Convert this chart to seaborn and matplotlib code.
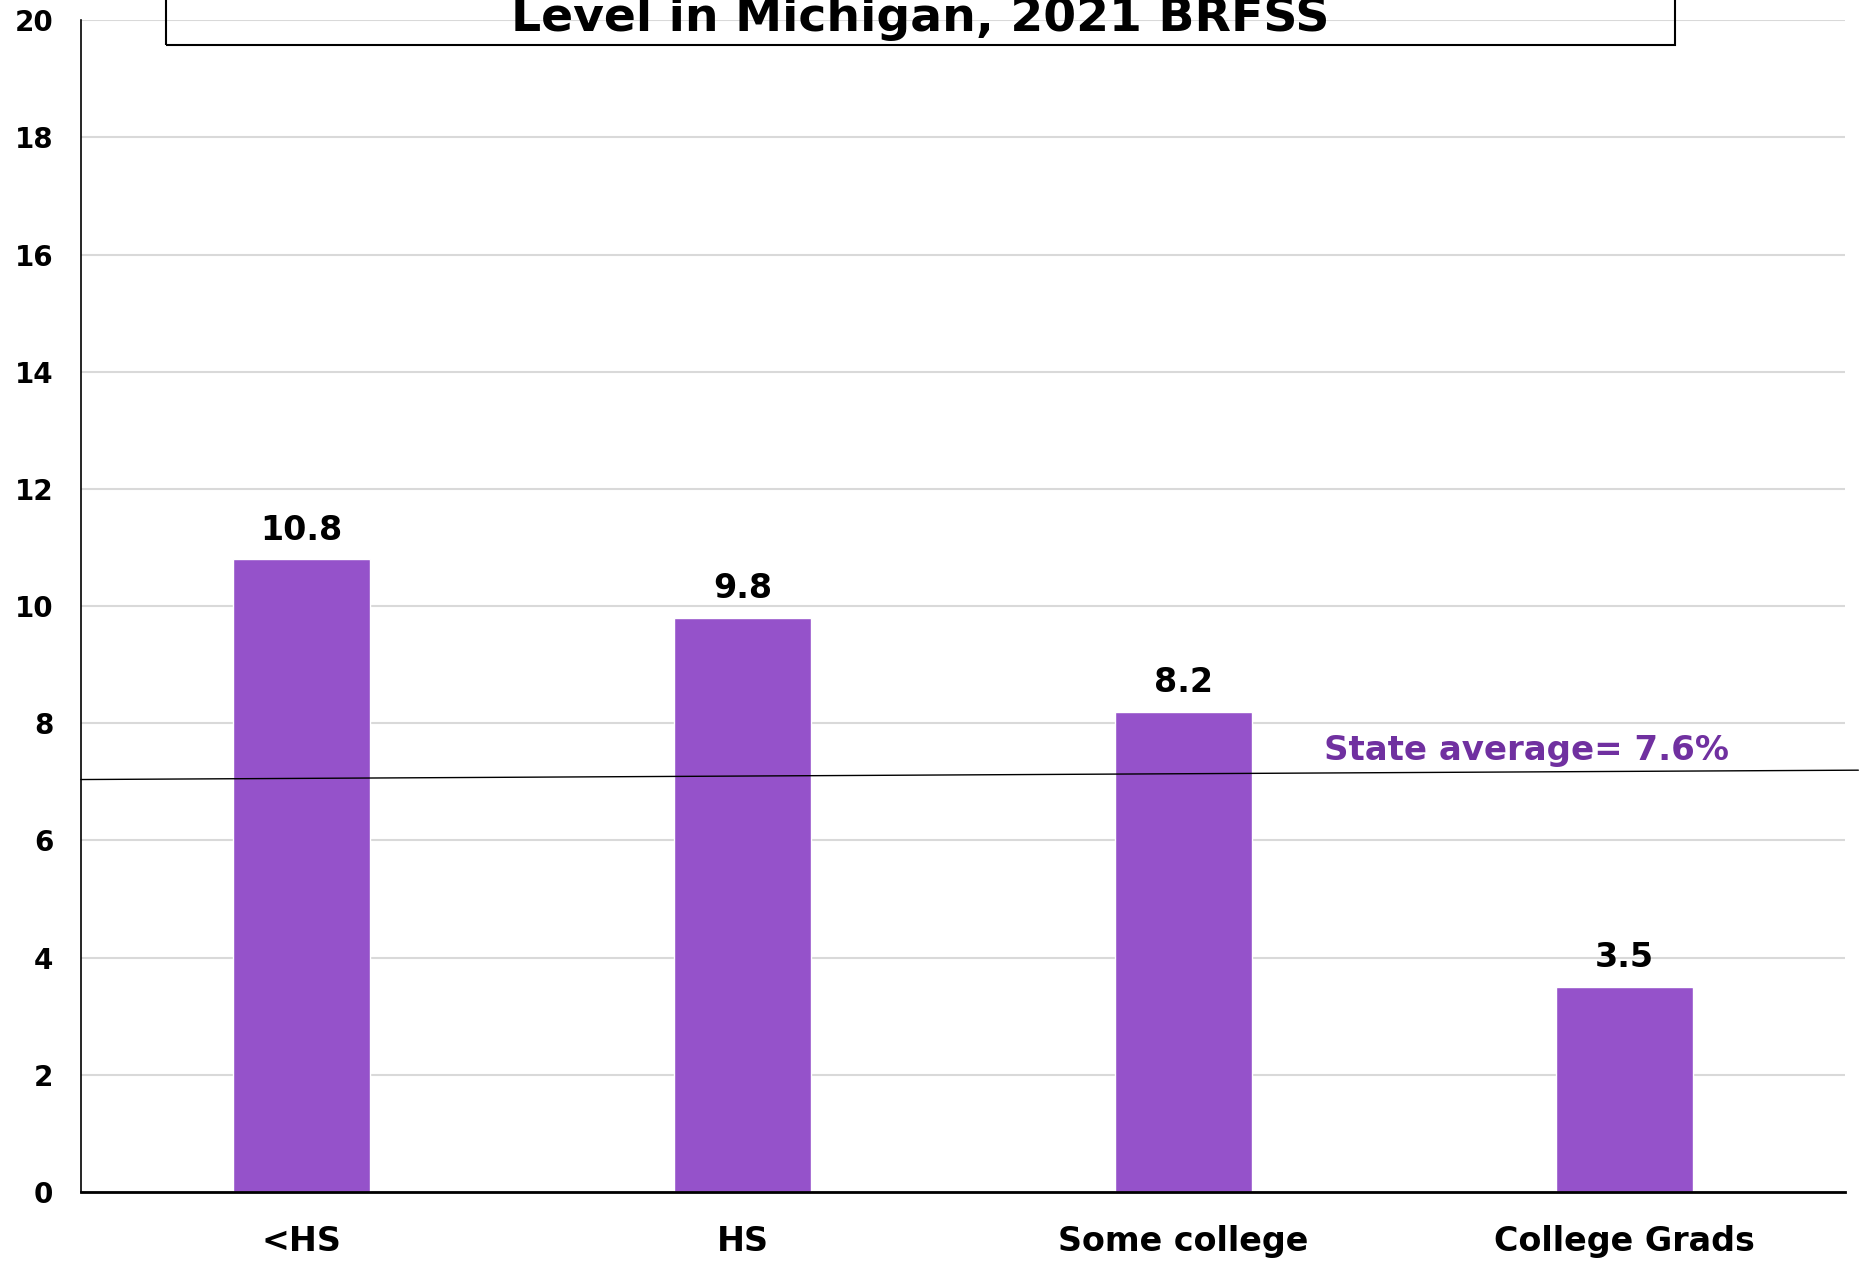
import matplotlib
matplotlib.use("Agg")
import matplotlib.pyplot as plt
import seaborn as sns
import pandas as pd
from matplotlib.patches import Rectangle

categories = ["<HS", "HS", "Some college", "College Grads"]
values = [10.8, 9.8, 8.2, 3.5]
yticks = [0, 2, 4, 6, 8, 10, 12, 14, 16, 18, 20]
title_text = "Level in Michigan, 2021 BRFSS"
avg_label = "State average= 7.6%"
avg_line_y = [7.04, 7.2]

sns.set_theme(style="white")
plt.rcParams['font.family'] = ['DejaVu Sans']
plt.rcParams['font.weight'] = 'bold'
plt.rcParams['text.color'] = 'black'
plt.rcParams['xtick.color'] = 'black'
plt.rcParams['ytick.color'] = 'black'

fig = plt.figure(figsize=(18.6, 12.63), dpi=100)
ax = fig.add_axes([0.0435, 0.0562, 0.9485, 0.9278])

df = pd.DataFrame({"cat": categories, "val": values})
sns.barplot(data=df, x="cat", y="val", color="#9552CA", saturation=1, width=0.31, ax=ax)

ax.set_xlim(-0.5, 3.5)
ax.set_ylim(0, 20)
ax.set_yticks(yticks)
ax.set_yticklabels([str(t) for t in yticks], fontsize=20, fontweight='bold', color='black')
ax.set_xlabel("")
ax.set_ylabel("")
ax.yaxis.grid(True, color="#d9d9d9", linewidth=1.5)
ax.set_axisbelow(True)
for s in ["top", "right"]:
    ax.spines[s].set_visible(False)
ax.spines["left"].set_color("black")
ax.spines["left"].set_linewidth(1.2)
ax.spines["bottom"].set_color("black")
ax.spines["bottom"].set_linewidth(2)
ax.tick_params(axis='y', length=0, pad=20)
ax.tick_params(axis='x', length=0, pad=24, labelsize=24)
for lbl in ax.get_xticklabels():
    lbl.set_fontweight('bold')
    lbl.set_color('black')

for i, v in enumerate(values):
    ax.annotate(f"{v}", (i, v), xytext=(0, 9), textcoords="offset points",
                ha="center", va="bottom", fontsize=24, fontweight="bold", color="black")

# state average line (extends to figure edge)
ax.plot([-0.5, 3.53], avg_line_y, color="black", linewidth=1, clip_on=False, zorder=5)
ax.text(2.777, 7.53, avg_label, ha="center", va="center", fontsize=24.5,
        fontweight="bold", color="#7030A0")

# title box partially cut off at top
fig.patches.append(Rectangle((166/1860, 1 - 45/1263), (1675-166)/1860, 0.1,
                             transform=fig.transFigure, fill=False,
                             edgecolor="black", linewidth=1.5, zorder=3))
fig.text(920/1860, 1 - 31/1263, title_text, ha="center", va="baseline",
         fontsize=34, fontweight="bold", color="black")

fig.savefig("out.png", dpi=100)
